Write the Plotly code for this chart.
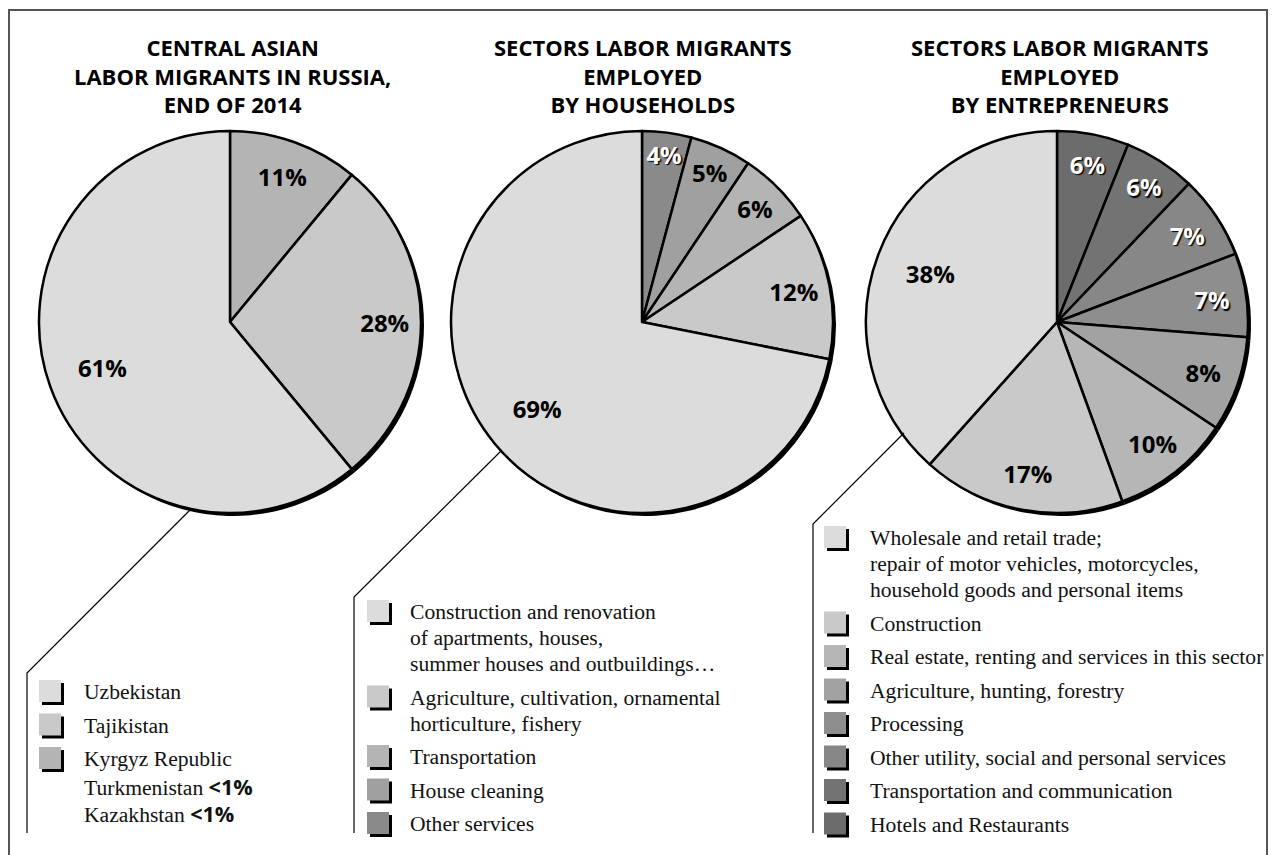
import plotly.graph_objects as go

W, H = 1276, 855

# ---------------- data ----------------
chart_titles = [
    "CENTRAL ASIAN<br>LABOR MIGRANTS IN RUSSIA,<br>END OF 2014",
    "SECTORS LABOR MIGRANTS<br>EMPLOYED<br>BY HOUSEHOLDS",
    "SECTORS LABOR MIGRANTS<br>EMPLOYED<br>BY ENTREPRENEURS",
]

countries = ["Uzbekistan", "Tajikistan", "Kyrgyz Republic"]
country_share = [61, 28, 11]
minor_countries = ["Turkmenistan", "Kazakhstan"]
minor_share = ["<1%", "<1%"]

household_sectors = [
    "Construction and renovation<br>of apartments, houses,<br>summer houses and outbuildings…",
    "Agriculture, cultivation, ornamental<br>horticulture, fishery",
    "Transportation",
    "House cleaning",
    "Other services",
]
household_share = [69, 12, 6, 5, 4]

entrepreneur_sectors = [
    "Wholesale and retail trade;<br>repair of motor vehicles, motorcycles,<br>household goods and personal items",
    "Construction",
    "Real estate, renting and services in this sector",
    "Agriculture, hunting, forestry",
    "Processing",
    "Other utility, social and personal services",
    "Transportation and communication",
    "Hotels and Restaurants",
]
entrepreneur_share = [38, 17, 10, 8, 7, 7, 6, 6]

# ---------------- styles ----------------
country_colors = ["#dcdcdc", "#c9c9c9", "#b4b4b4"]
household_colors = ["#dcdcdc", "#c9c9c9", "#b4b4b4", "#a0a0a0", "#8a8a8a"]
entrepreneur_colors = ["#dcdcdc", "#c9c9c9", "#b6b6b6", "#a2a2a2", "#8e8e8e",
                       "#878787", "#737373", "#6c6c6c"]
household_label_colors = ["black", "black", "black", "black", "white"]
entrepreneur_label_colors = ["black", "black", "black", "black", "white",
                             "white", "white", "white"]
country_label_colors = ["black", "black", "black"]

layout_specs = [
    dict(cx=230, cy=322, r=191, title_x=232, box_x=39, text_x=82, y0=693,
         connector=[(190, 510), (27, 673), (27, 833)]),
    dict(cx=642, cy=322, r=191, title_x=643, box_x=367, text_x=408, y0=613,
         connector=[(502, 450), (354, 597), (354, 833)]),
    dict(cx=1057, cy=322, r=191, title_x=1060, box_x=824, text_x=868, y0=539,
         connector=[(904, 433), (813, 524), (813, 833)]),
]

LABEL_FONT = "Open Sans"
LEGEND_FONT = "Liberation Serif"
LEGEND_SIZE = 21.6
BIG_SLICE = 30          # slices at least this big get their label nearer the centre
RING_HOLES = (0.62, 0.42)


def fx(x):
    return x / W


def fy(y):
    return 1 - y / H


fig = go.Figure()
annotations = []
shapes = []

datasets = [
    (countries, country_share, country_colors, country_label_colors),
    (household_sectors, household_share, household_colors, household_label_colors),
    (entrepreneur_sectors, entrepreneur_share, entrepreneur_colors, entrepreneur_label_colors),
]

for idx, (spec, (labels, values, colors, lcolors)) in enumerate(zip(layout_specs, datasets)):
    cx, cy, r = spec["cx"], spec["cy"], spec["r"]
    n = len(values)
    dom = dict(x=[fx(cx - r), fx(cx + r)], y=[fy(cy + r), fy(cy - r)])
    s = 3
    dom_sh = dict(x=[fx(cx - r + s), fx(cx + r + s)], y=[fy(cy + r + s), fy(cy - r + s)])
    # slices run clockwise from 12 o'clock, smallest (last listed) first
    p_labels = labels[::-1]
    p_values = values[::-1]
    p_colors = colors[::-1]
    p_lcolors = lcolors[::-1]
    common = dict(labels=p_labels, values=p_values, sort=False, direction="clockwise",
                  rotation=0, hoverinfo="skip", showlegend=False)
    # shadow
    fig.add_trace(go.Pie(domain=dom_sh,
                         marker=dict(colors=["#000000"] * n, line=dict(width=0)),
                         textinfo="none", **common))
    # main slices
    fig.add_trace(go.Pie(domain=dom,
                         marker=dict(colors=p_colors, line=dict(color="#000000", width=2.5)),
                         textinfo="none", **common))
    # labels (transparent rings so labels sit toward the rim)
    shadows = ["1.5px 1.5px 1px #000" if c == "white" else "none" for c in p_lcolors]
    for k, hole in enumerate(RING_HOLES):
        texts = [f"{v}%" if ((v >= BIG_SLICE) == (k == 1)) else "" for v in p_values]
        fig.add_trace(go.Pie(domain=dom, hole=hole,
                             marker=dict(colors=["rgba(0,0,0,0)"] * n, line=dict(width=0)),
                             text=texts, textinfo="text",
                             textposition="inside", insidetextorientation="horizontal",
                             textfont=dict(family=LABEL_FONT, size=24, weight=700,
                                           color=p_lcolors, shadow=shadows),
                             **common))

    # title
    annotations.append(dict(x=fx(spec["title_x"]), y=fy(75), xref="paper", yref="paper",
                            text=chart_titles[idx], showarrow=False, xanchor="center",
                            yanchor="middle", align="center",
                            font=dict(family=LABEL_FONT, size=22, weight=700, color="#000")))

    # legend
    cur = spec["y0"]
    for lab, col in zip(labels, colors):
        lines = lab.split("<br>")
        by = cur - 13
        bx = spec["box_x"]
        shapes.append(dict(type="rect", xref="paper", yref="paper",
                           x0=fx(bx + 3), x1=fx(bx + 25), y0=fy(by + 25), y1=fy(by + 3),
                           fillcolor="#000", line=dict(width=0)))
        shapes.append(dict(type="rect", xref="paper", yref="paper",
                           x0=fx(bx), x1=fx(bx + 22), y0=fy(by + 22), y1=fy(by),
                           fillcolor=col, line=dict(width=0)))
        for j, ln in enumerate(lines):
            annotations.append(dict(x=fx(spec["text_x"]), y=fy(cur - 1), xref="paper", yref="paper",
                                    text=ln, showarrow=False, xanchor="left", yanchor="middle",
                                    font=dict(family=LEGEND_FONT, size=LEGEND_SIZE, color="#111")))
            if j < len(lines) - 1:
                cur += 26
        cur += 33.5
    if idx == 0:
        cur -= 33.5
        for name, share in zip(minor_countries, minor_share):
            cur += 27
            txt = (f"{name} <span style=\"font-family:'{LABEL_FONT}';font-weight:bold\">"
                   f"{share.replace('<', '&lt;')}</span>")
            annotations.append(dict(x=fx(spec["text_x"]), y=fy(cur - 1), xref="paper", yref="paper",
                                    text=txt, showarrow=False, xanchor="left", yanchor="middle",
                                    font=dict(family=LEGEND_FONT, size=LEGEND_SIZE, color="#111")))

    # connector
    pts = spec["connector"]
    path = "M " + " L ".join(f"{fx(x)},{fy(y)}" for x, y in pts)
    shapes.append(dict(type="path", xref="paper", yref="paper", path=path,
                       line=dict(color="#000", width=1.2)))

# outer frame (open at bottom edge of picture)
shapes.append(dict(type="rect", xref="paper", yref="paper",
                   x0=fx(9), x1=fx(1267), y0=fy(900), y1=fy(10),
                   line=dict(color="#555", width=2), fillcolor="rgba(0,0,0,0)"))

fig.update_layout(
    width=W, height=H,
    margin=dict(l=0, r=0, t=0, b=0),
    paper_bgcolor="white", plot_bgcolor="white",
    uniformtext=dict(minsize=24, mode="show"),
    annotations=annotations,
    shapes=shapes,
    showlegend=False,
)

fig.write_html("out.html", config={"displayModeBar": False},
               post_script="document.body.style.margin='0';")
